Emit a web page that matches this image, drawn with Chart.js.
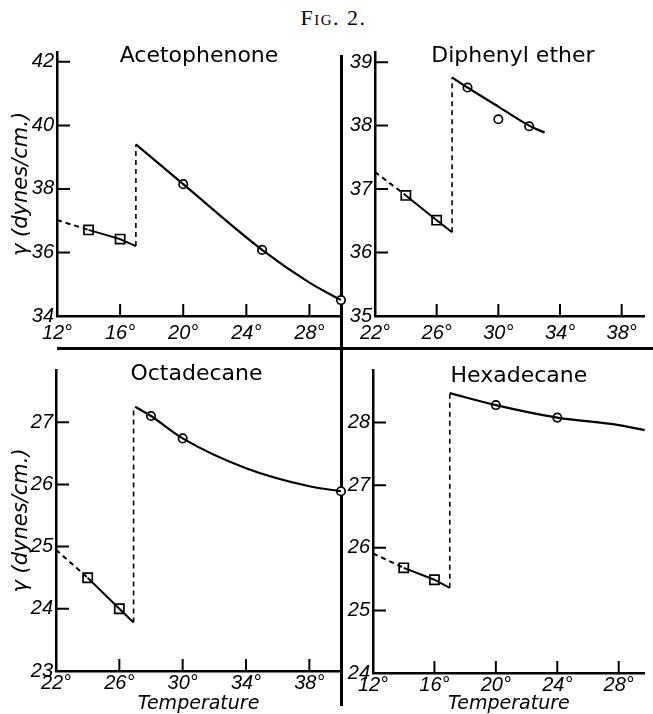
<!DOCTYPE html>
<html>
<head>
<meta charset="utf-8">
<script src="https://cdn.jsdelivr.net/npm/chart.js@4.4.1/dist/chart.umd.min.js"></script>
<style>
  html, body { margin: 0; padding: 0; background: #fff; }
  #page { position: relative; width: 653px; height: 714px; overflow: hidden; background: #fff; }
  #fig { position: absolute; top: 5px; left: 7px; width: 653px; text-align: center; line-height: 22px;
         font: 22px "Liberation Serif", serif; font-variant: small-caps; letter-spacing: 1.5px; }
  .rule { position: absolute; background: #000; }
  canvas { position: absolute; }
</style>
</head>
<body>
<div id="page">
  <div id="fig">Fig. 2.</div>
  <div class="rule" style="left:340px; top:55px; width:2.5px; height:651px;"></div>
  <div class="rule" style="left:57px; top:347px; width:596px; height:2.5px;"></div>
  <canvas id="aceto" width="352" height="326" style="left:0; top:30px;"></canvas>
  <canvas id="diph" width="310" height="326" style="left:343px; top:30px;"></canvas>
  <canvas id="octa" width="352" height="359" style="left:0; top:355px;"></canvas>
  <canvas id="hexa" width="310" height="359" style="left:343px; top:355px;"></canvas>
</div>
<script>
// Acetophenone
const acetoLineTemp = [12, 14, 16, 17];
const acetoLineGamma = [37.02, 36.71, 36.42, 36.2];
const acetoCurveTemp = [17, 20, 25, 28, 30];
const acetoCurveGamma = [39.4, 38.15, 36.08, 35.05, 34.5];
const acetoSquareTemp = [14, 16];
const acetoSquareGamma = [36.71, 36.42];
const acetoCircleTemp = [20, 25, 30];
const acetoCircleGamma = [38.15, 36.08, 34.5];
const acetoXTicks = [12, 16, 20, 24, 28];
const acetoYTicks = [34, 36, 38, 40, 42];

// Diphenyl ether
const diphLineTemp = [22, 24, 26, 27];
const diphLineGamma = [37.27, 36.9, 36.51, 36.32];
const diphCurveTemp = [27, 28, 30, 32, 33];
const diphCurveGamma = [38.76, 38.6, 38.3, 38.0, 37.89];
const diphSquareTemp = [24, 26];
const diphSquareGamma = [36.9, 36.51];
const diphCircleTemp = [28, 30, 32];
const diphCircleGamma = [38.6, 38.1, 37.99];
const diphXTicks = [22, 26, 30, 34, 38];
const diphYTicks = [35, 36, 37, 38, 39];

// Octadecane
const octaLineTemp = [22, 24, 26, 26.9];
const octaLineGamma = [24.95, 24.5, 24.0, 23.78];
const octaCurveTemp = [27, 28, 30, 34, 38, 40];
const octaCurveGamma = [27.25, 27.1, 26.74, 26.26, 25.97, 25.89];
const octaSquareTemp = [24, 26];
const octaSquareGamma = [24.5, 24.0];
const octaCircleTemp = [28, 30, 40];
const octaCircleGamma = [27.1, 26.74, 25.89];
const octaXTicks = [22, 26, 30, 34, 38];
const octaYTicks = [23, 24, 25, 26, 27];

// Hexadecane
const hexaLineTemp = [12, 14, 16, 17];
const hexaLineGamma = [25.91, 25.68, 25.49, 25.36];
const hexaCurveTemp = [17, 20, 24, 28, 29.7];
const hexaCurveGamma = [28.47, 28.28, 28.08, 27.96, 27.88];
const hexaSquareTemp = [14, 16];
const hexaSquareGamma = [25.68, 25.49];
const hexaCircleTemp = [20, 24];
const hexaCircleGamma = [28.28, 28.08];
const hexaXTicks = [12, 16, 20, 24, 28];
const hexaYTicks = [24, 25, 26, 27, 28];

const tickFont = { family: 'Liberation Sans', style: 'italic', size: 20 };
const yTitle = 'γ (dynes/cm.)';

// titre du panneau, dessine dans la zone du graphe
const panelTitle = {
    id: 'panelTitle',
    afterDraw(chart, args, opts) {
        const { ctx, chartArea: a } = chart;
        ctx.save();
        ctx.font = '22px "DejaVu Sans"';
        ctx.fillStyle = '#000';
        ctx.textAlign = 'center';
        ctx.textBaseline = 'alphabetic';
        ctx.fillText(opts.text, (a.left + a.right) / 2 + (opts.dx || 0), a.top + opts.dy);
        ctx.restore();
    }
};

// petites graduations tournees vers l'interieur
const inTicks = {
    id: 'inTicks',
    beforeDatasetsDraw(chart) {
        const { ctx, chartArea: a, scales: { x, y } } = chart;
        ctx.save();
        ctx.strokeStyle = '#000';
        ctx.lineWidth = 2;
        ctx.beginPath();
        x.ticks.forEach(t => {
            if (t.value === x.min) return;
            const px = x.getPixelForValue(t.value);
            ctx.moveTo(px, a.bottom);
            ctx.lineTo(px, a.bottom - 12);
        });
        y.ticks.forEach(t => {
            if (t.value === y.min) return;
            const py = y.getPixelForValue(t.value);
            ctx.moveTo(a.left, py);
            ctx.lineTo(a.left + 13, py);
        });
        ctx.stroke();
        ctx.restore();
    }
};

function pairs(temps, gammas) {
    return temps.map((t, i) => ({ x: t, y: gammas[i] }));
}

function drawPanel(id, p) {
    const line = pairs(p.lineT, p.lineG);
    const curve = pairs(p.curveT, p.curveG);
    const squares = pairs(p.sqT, p.sqG);
    const circles = pairs(p.ciT, p.ciG);
    const last = line[line.length - 1];
    const jump = [last, { x: last.x, y: curve[0].y }];

    new Chart(document.getElementById(id), {
        type: 'scatter',
        data: {
            datasets: [
                {
                    data: line, showLine: true, borderColor: '#000', borderWidth: 2, pointRadius: 0,
                    segment: { borderDash: c => c.p0DataIndex === 0 ? [5, 4] : undefined }
                },
                { data: jump, showLine: true, borderColor: '#000', borderWidth: 1.6, borderDash: [5, 4], pointRadius: 0 },
                { data: curve, showLine: true, borderColor: '#000', borderWidth: 2.2, pointRadius: 0, cubicInterpolationMode: 'monotone' },
                {
                    data: squares, pointStyle: 'rect', pointRadius: 6.5, pointBackgroundColor: '#fff',
                    pointBorderColor: '#000', pointBorderWidth: 1.7, clip: false
                },
                {
                    data: circles, pointStyle: 'circle', pointRadius: 4.2, pointBackgroundColor: '#fff',
                    pointBorderColor: '#000', pointBorderWidth: 1.7, clip: false
                },
                {
                    data: squares.concat(circles), pointRadius: 1.4, pointBackgroundColor: '#000',
                    pointBorderWidth: 0, clip: false
                }
            ]
        },
        options: {
            responsive: false,
            animation: false,
            events: [],
            layout: { padding: { left: 0, top: p.padTop, right: p.padRight, bottom: 0 } },
            plugins: {
                legend: { display: false },
                tooltip: { enabled: false },
                panelTitle: { text: p.title, dx: p.titleDx, dy: p.titleDy }
            },
            scales: {
                x: {
                    type: 'linear', min: p.xMin, max: p.xMax,
                    afterBuildTicks: s => { s.ticks = p.xTicks.map(v => ({ value: v })); },
                    afterFit: s => { s.height = p.xH; },
                    grid: { display: false, drawTicks: false },
                    border: { display: true, color: '#000', width: 2.5 },
                    ticks: { color: '#000', font: tickFont, padding: p.xPad, maxRotation: 0, callback: v => v + '°' },
                    title: {
                        display: !!p.xTitle, text: p.xTitle || '', color: '#000',
                        font: { family: 'DejaVu Sans', style: 'italic', size: 19, lineHeight: 1 },
                        padding: { top: 0, bottom: 0 }
                    }
                },
                y: {
                    type: 'linear', min: p.yMin, max: p.yMax,
                    afterBuildTicks: s => { s.ticks = p.yTicks.map(v => ({ value: v })); },
                    afterFit: s => { s.width = p.yW; },
                    grid: { display: false, drawTicks: false },
                    border: { display: true, color: '#000', width: 2.5 },
                    ticks: { color: '#000', font: tickFont, padding: 3 },
                    title: {
                        display: !!p.yTitle, text: p.yTitle || '', color: '#000',
                        font: { family: 'DejaVu Sans', style: 'italic', size: 21 },
                        padding: { top: 9, bottom: 0 }
                    }
                }
            }
        },
        plugins: [inTicks, panelTitle]
    });
}

drawPanel('aceto', {
    title: 'Acetophenone', titleDx: 0, titleDy: 10,
    lineT: acetoLineTemp, lineG: acetoLineGamma, curveT: acetoCurveTemp, curveG: acetoCurveGamma,
    sqT: acetoSquareTemp, sqG: acetoSquareGamma, ciT: acetoCircleTemp, ciG: acetoCircleGamma,
    xTicks: acetoXTicks, yTicks: acetoYTicks, xMin: 12, xMax: 30, yMin: 34, yMax: 42.31,
    padTop: 22, padRight: 11, xH: 40, yW: 57, xPad: 5, yTitle: yTitle
});

drawPanel('diph', {
    title: 'Diphenyl ether', titleDx: 3, titleDy: 10,
    lineT: diphLineTemp, lineG: diphLineGamma, curveT: diphCurveTemp, curveG: diphCurveGamma,
    sqT: diphSquareTemp, sqG: diphSquareGamma, ciT: diphCircleTemp, ciG: diphCircleGamma,
    xTicks: diphXTicks, yTicks: diphYTicks, xMin: 22, xMax: 39.5, yMin: 35, yMax: 39.16,
    padTop: 22, padRight: 0, xH: 40, yW: 32, xPad: 5
});

drawPanel('octa', {
    title: 'Octadecane', titleDx: -2, titleDy: 10,
    lineT: octaLineTemp, lineG: octaLineGamma, curveT: octaCurveTemp, curveG: octaCurveGamma,
    sqT: octaSquareTemp, sqG: octaSquareGamma, ciT: octaCircleTemp, ciG: octaCircleGamma,
    xTicks: octaXTicks, yTicks: octaYTicks, xMin: 22, xMax: 40, yMin: 23, yMax: 27.84,
    padTop: 10, padRight: 11, xH: 43, yW: 56, xPad: 0, yTitle: yTitle, xTitle: 'Temperature'
});

drawPanel('hexa', {
    title: 'Hexadecane', titleDx: 10, titleDy: 12,
    lineT: hexaLineTemp, lineG: hexaLineGamma, curveT: hexaCurveTemp, curveG: hexaCurveGamma,
    sqT: hexaSquareTemp, sqG: hexaSquareGamma, ciT: hexaCircleTemp, ciG: hexaCircleGamma,
    xTicks: hexaXTicks, yTicks: hexaYTicks, xMin: 12, xMax: 29.7, yMin: 24, yMax: 28.84,
    padTop: 11, padRight: 0, xH: 41, yW: 30, xPad: 0, xTitle: 'Temperature'
});
</script>
</body>
</html>
